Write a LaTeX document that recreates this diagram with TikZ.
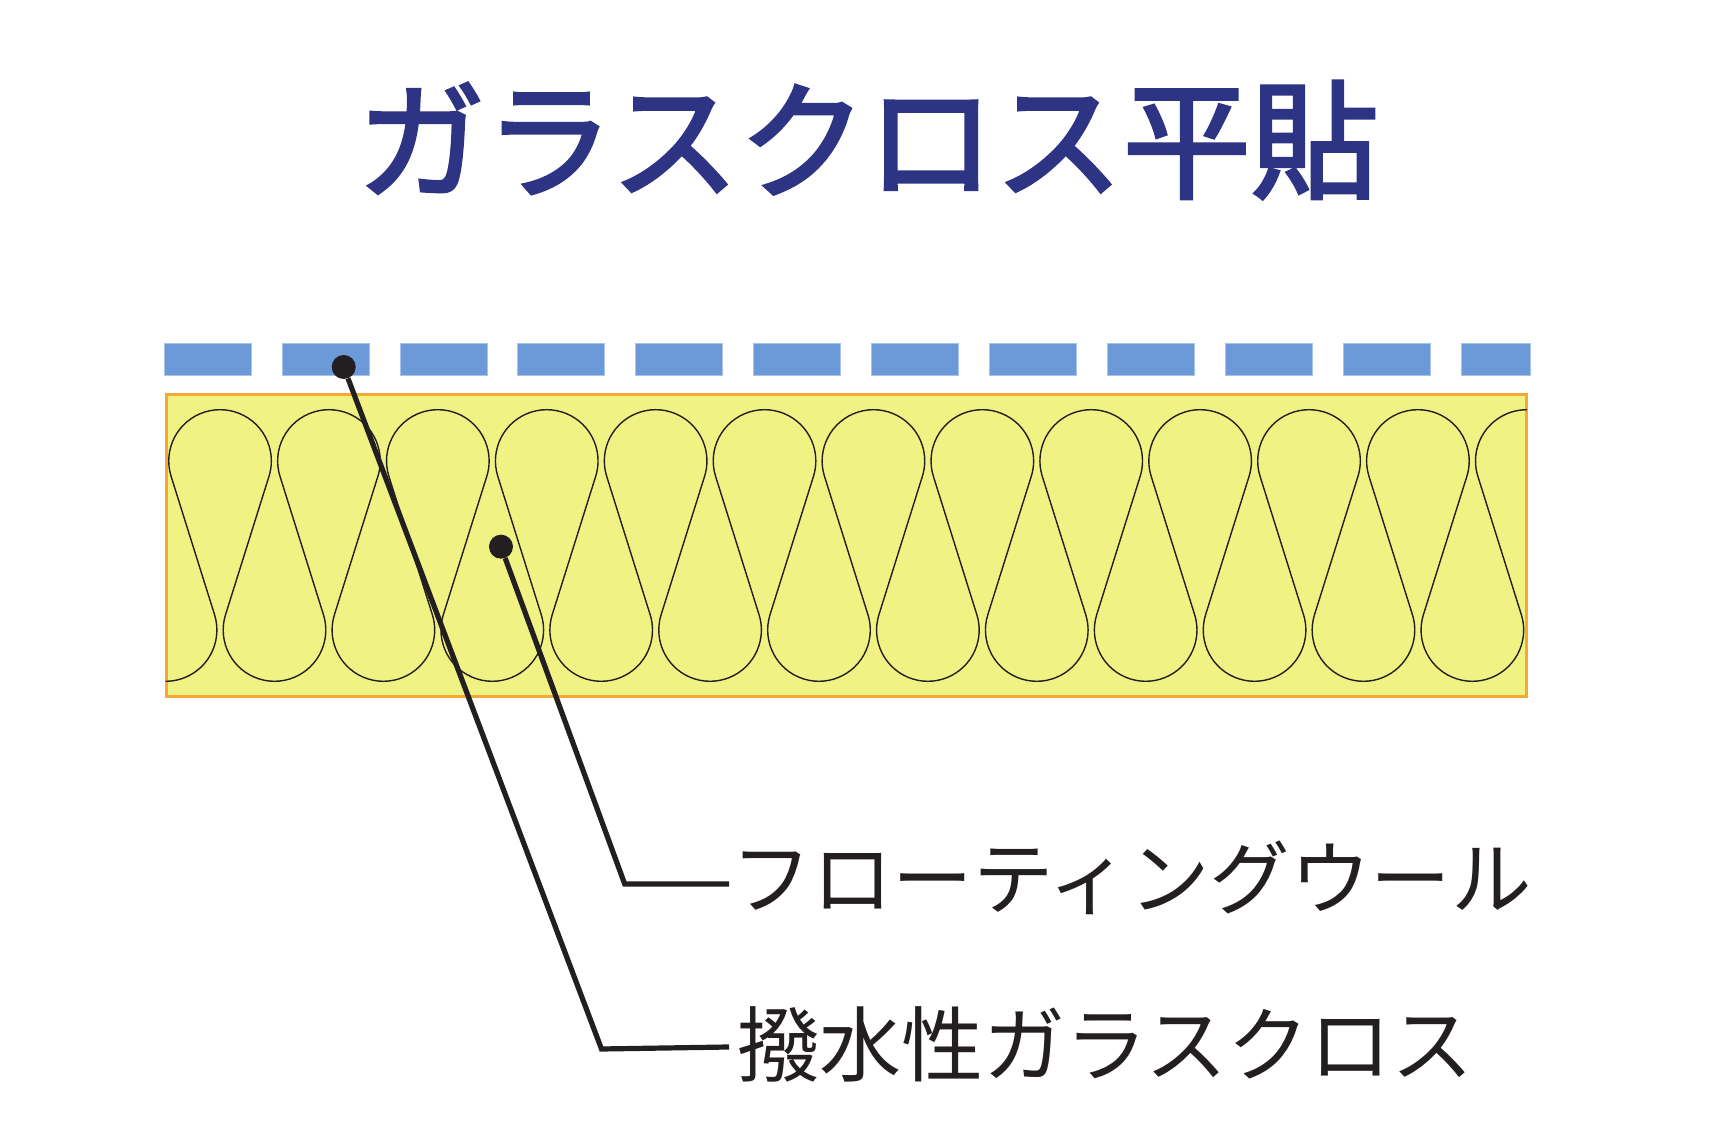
\documentclass[tikz,border=0pt]{standalone}
\usepackage{fontspec}
\newfontfamily\cjk{Noto Sans CJK JP}
\newfontfamily\cjkheavy[FakeBold=2.5]{Noto Sans CJK JP}
\definecolor{titleblue}{HTML}{2E3484}
\definecolor{stripblue}{HTML}{6C9AD8}
\definecolor{stripedge}{HTML}{A9C4EC}
\definecolor{woolyellow}{HTML}{F0F383}
\definecolor{woolorange}{HTML}{F7A733}
\definecolor{inkblack}{HTML}{231F20}
\tikzset{
    strip/.style={fill=stripblue, draw=stripedge, line width=0.6pt},
    fibre/.style={draw=inkblack, line width=1.4pt},
    leader/.style={draw=inkblack, line width=5.2pt},
    dotmark/.style={circle, fill=inkblack, minimum size=24pt, inner sep=0pt},
    partlabel/.style={anchor=west, text=inkblack, inner ysep=0pt, text depth=10pt},
}
\begin{document}
\begin{tikzpicture}[x=1pt, y=1pt]
    \useasboundingbox (0, 0) rectangle (1735, 1145);

    % title
    \node[text=titleblue, font=\cjkheavy\fontsize{128}{150}\selectfont] (title) at (868, 1005) {ガラスクロス平貼};

    % glass cloth strips
    \foreach \i in {0, ..., 10} {
        \draw[strip] (164 + 117.9*\i, 769.7) rectangle ++(87, 32);
    }
    \draw[strip] (1461, 769.7) rectangle ++(69, 32);

    % wool
    \draw[fill=woolyellow, draw=woolorange, line width=3pt] (166, 448) rectangle (1526.7, 750.3);
    \draw[fibre] (165.6, 463.7) arc[start angle=270, end angle=377.44, radius=51.3]
        foreach \i in {0, ..., 11} {
            -- ++(-43.43, 138.25) arc[start angle=197.44, end angle=-17.44, radius=51.3]
            -- ++(-43.43, -138.25) arc[start angle=162.56, end angle=377.44, radius=51.3]
        }
        -- ++(-43.43, 138.25) arc[start angle=197.44, end angle=90, radius=51.3];

    % labels
    \node[partlabel, inner xsep=2.5pt, text height=60pt, font=\cjk\fontsize{80.5}{96}\selectfont] (woollabel) at (729, 261) {フローティングウール};
    \node[partlabel, inner xsep=8pt, text height=68pt, font=\cjk\fontsize{82}{96}\selectfont] (clothlabel) at (729, 98) {撥水性ガラスクロス};

    % leaders
    \node[dotmark] (clothdot) at (343.7, 778) {};
    \node[dotmark] (wooldot) at (501, 598.3) {};
    \coordinate (woolbend) at (624.7, 261);
    \coordinate (clothbend) at (601.5, 96);
    \draw[leader] (wooldot) -- (woolbend) -- (woollabel.west);
    \draw[leader] (clothdot) -- (clothbend) -- (clothlabel.west);
\end{tikzpicture}
\end{document}
